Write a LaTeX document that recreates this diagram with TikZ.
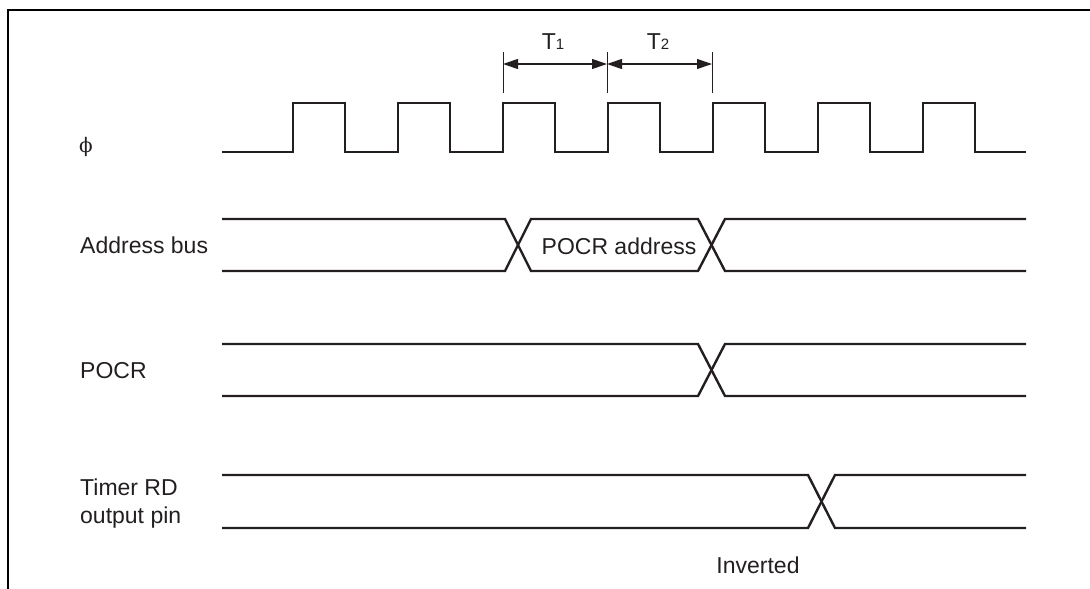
\documentclass[tikz,border=0pt]{standalone}
\usepackage{fontspec}
\setmainfont{Liberation Sans}
\newfontfamily\phifont{DejaVu Serif}
\usetikzlibrary{arrows.meta}
\definecolor{ink}{HTML}{231F20}
\begin{document}
\begin{tikzpicture}[x=1pt,y=-1pt,
  sig/.style={draw=ink, line width=2.4pt, line join=miter},
  frame/.style={draw=black, line width=2.6pt},
  tick/.style={draw=ink, line width=1pt},
  dimarrow/.style={draw=ink, line width=1.2pt, {Triangle[length=15pt,width=10pt]}-{Triangle[length=15pt,width=10pt]}},
  lbl/.style={font=\fontsize{23}{28}\selectfont, text=ink, inner sep=0pt}]
\useasboundingbox (0,0) rectangle (1090,589);
% frame
\draw[frame] (8,589) -- (8,10) -- (1090,10);
% clock
\draw[sig] (222,152)
  \foreach \r in {293,398,503,608,713,818,923}{ -- (\r,152) -- (\r,103) -- (\r+52,103) -- (\r+52,152)}
  -- (1026,152);
% dimension ticks
\coordinate (d1) at (503,64);
\coordinate (d2) at (607,64);
\coordinate (d3) at (712,64);
\draw[tick] (503,52) -- (503,93);
\draw[tick] (607,52) -- (607,93);
\draw[tick] (712,52) -- (712,93);
\draw[dimarrow] (d1) -- (d2);
\draw[dimarrow] (d2) -- (d3);
\node[lbl] (t1) at (553,42) {T{\fontsize{15}{15}\selectfont 1}};
\node[lbl] (t2) at (658,42) {T{\fontsize{15}{15}\selectfont 2}};
% address bus
\draw[sig] (222,219) -- (505,219) -- (531,271) -- (698,271) -- (725,219) -- (1026,219);
\draw[sig] (222,271) -- (505,271) -- (531,219) -- (698,219) -- (725,271) -- (1026,271);
\node[lbl] (pa) at (619,246) {POCR address};
% POCR
\draw[sig] (222,344) -- (698,344) -- (725,396) -- (1026,396);
\draw[sig] (222,396) -- (698,396) -- (725,344) -- (1026,344);
% Timer RD
\draw[sig] (222,475) -- (808,475) -- (835,528) -- (1026,528);
\draw[sig] (222,528) -- (808,528) -- (835,475) -- (1026,475);
\node[lbl] (inv) at (758,565) {Inverted};
% labels
\node[lbl, font=\fontsize{20}{24}\phifont] (phi) at (86,147) {ϕ};
\node[lbl, anchor=west] (ab) at (80,245) {Address bus};
\node[lbl, anchor=west] (pocr) at (80,371) {POCR};
\node[lbl, anchor=west, align=left] (tmr) at (80,504) {Timer RD\\output pin};
\end{tikzpicture}
\end{document}
